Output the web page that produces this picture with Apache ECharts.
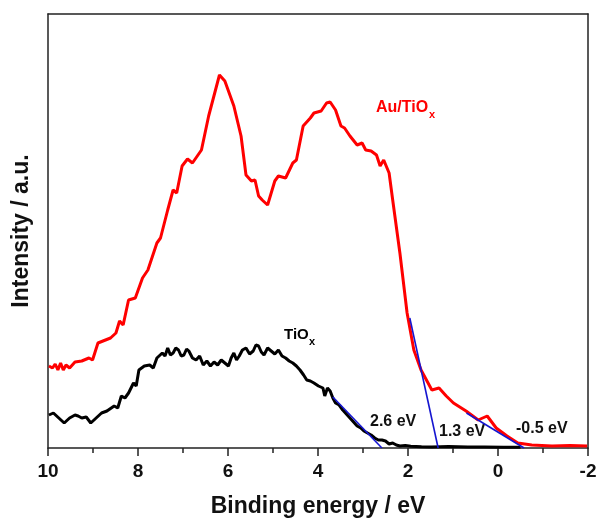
<!DOCTYPE html>
<html>
<head>
<meta charset="utf-8">
<script src="https://cdn.jsdelivr.net/npm/echarts@6/dist/echarts.min.js"></script>
<style>html,body{margin:0;padding:0;background:#fff}#c{width:601px;height:525px}</style>
</head>
<body>
<div id="c"></div>
<script>
// Binding energy (eV) and intensity (a.u.)
var auTiOx = [[9.98,82],[9.90,80],[9.84,84],[9.78,78],[9.72,85],[9.66,78],[9.60,83],[9.52,80],[9.40,86],[9.25,87],[9.09,90],[9.01,88],[8.89,105],[8.61,110],[8.49,115],[8.41,127],[8.33,123],[8.21,148],[8.06,150],[7.90,170],[7.78,178],[7.58,205],[7.50,210],[7.34,238],[7.22,258],[7.14,255],[7.02,282],[6.90,289],[6.79,285],[6.59,298],[6.43,332],[6.19,373],[6.07,367],[5.87,342],[5.71,312],[5.60,273],[5.48,267],[5.40,268],[5.32,252],[5.24,248],[5.12,243],[4.96,267],[4.88,272],[4.72,270],[4.56,285],[4.48,288],[4.33,322],[4.17,330],[4.09,335],[3.93,337],[3.81,345],[3.73,346],[3.61,338],[3.49,322],[3.41,320],[3.29,312],[3.13,303],[3.02,305],[2.94,298],[2.82,297],[2.70,293],[2.62,282],[2.54,288],[2.42,275],[2.34,248],[2.18,195],[2.02,135],[1.87,98],[1.71,78],[1.47,58],[1.31,60],[1.15,52],[0.99,45],[0.71,37],[0.44,28],[0.24,32],[0.04,20],[-0.20,12],[-0.44,5],[-0.75,3],[-1.2,2],[-1.6,2.5],[-1.98,2]];
var tiOx = [[9.98,33],[9.88,35],[9.76,30],[9.64,25],[9.52,30],[9.40,33],[9.33,32],[9.25,30],[9.15,31],[9.05,25],[8.93,30],[8.81,35],[8.69,37],[8.53,42],[8.45,40],[8.37,52],[8.29,50],[8.21,55],[8.10,65],[8.04,62],[7.98,78],[7.86,82],[7.74,83],[7.66,80],[7.58,90],[7.46,95],[7.40,92],[7.34,100],[7.28,93],[7.22,95],[7.16,100],[7.10,98],[7.04,92],[6.98,93],[6.92,99],[6.87,97],[6.79,90],[6.71,88],[6.63,92],[6.55,83],[6.47,87],[6.39,82],[6.31,86],[6.23,83],[6.15,88],[6.07,85],[5.99,82],[5.93,90],[5.87,95],[5.81,88],[5.75,92],[5.68,98],[5.60,100],[5.52,94],[5.44,97],[5.38,103],[5.32,102],[5.26,96],[5.20,93],[5.12,100],[5.04,97],[4.96,94],[4.88,98],[4.80,92],[4.72,90],[4.64,87],[4.56,85],[4.48,82],[4.40,78],[4.32,73],[4.25,68],[4.17,67],[4.09,65],[3.99,62],[3.89,60],[3.85,52],[3.79,60],[3.73,57],[3.67,50],[3.61,45],[3.53,43],[3.45,38],[3.37,34],[3.29,30],[3.21,26],[3.13,22],[3.05,20],[2.98,17],[2.90,15],[2.82,13],[2.74,10],[2.66,8],[2.58,8],[2.50,7],[2.42,4],[2.34,5],[2.26,3],[2.18,2],[2.06,2.5],[1.94,1.7],[1.70,1.2],[1.47,1],[1.10,1.5],[0.67,1],[0.30,1],[-0.12,0.7],[-0.5,0.8]];
var tangentTiOx = [[3.67,51],[2.58,0]];
var tangentSteep = [[1.96,130],[1.33,0]];
var tangentTail = [[0.70,35],[-0.58,0]];
var xTicks = [10,8,6,4,2,0,-2];

var chart = echarts.init(document.getElementById('c'), null, {renderer:'canvas'});
var F = 'Liberation Sans, Arial, sans-serif';
var lineBase = {type:'line', showSymbol:false, symbol:'none', smooth:false, animation:false};
function txt(x,y,s,size,color){return {type:'text',left:x,top:y,style:{text:s,fontSize:size,fontWeight:'bold',fontFamily:F,fill:color}};}
chart.setOption({
  animation:false,
  grid:{left:48,right:13,top:14,bottom:77,show:false},
  xAxis:[{
    type:'value', min:-2, max:10, interval:2, inverse:true,
    axisLine:{show:true,onZero:false,lineStyle:{color:'#222',width:1.5}},
    axisTick:{show:true,inside:false,length:8,lineStyle:{color:'#222',width:1.5}},
    minorTick:{show:true,splitNumber:2,length:5,lineStyle:{color:'#222',width:1.5}},
    splitLine:{show:false},
    axisLabel:{show:true,margin:14,fontSize:19,fontWeight:'bold',fontFamily:F,color:'#111',
      formatter:function(v){return xTicks.indexOf(v)>=0?String(v):'';}},
    name:'Binding energy / eV', nameLocation:'middle', nameGap:47,
    nameTextStyle:{fontSize:23,fontWeight:'bold',fontFamily:F,color:'#111'}
  },{
    type:'value', min:-2, max:10, inverse:true, position:'top',
    axisLine:{show:true,onZero:false,lineStyle:{color:'#222',width:1.5}},
    axisTick:{show:false}, axisLabel:{show:false}, splitLine:{show:false}
  }],
  yAxis:[{
    type:'value', min:0, max:434,
    axisLine:{show:true,onZero:false,lineStyle:{color:'#222',width:1.5}},
    axisTick:{show:false}, axisLabel:{show:false}, splitLine:{show:false},
    name:'Intensity / a.u.', nameLocation:'middle', nameGap:15,
    nameTextStyle:{fontSize:23,fontWeight:'bold',fontFamily:F,color:'#111'}
  },{
    type:'value', min:0, max:434, position:'right',
    axisLine:{show:true,onZero:false,lineStyle:{color:'#222',width:1.5}},
    axisTick:{show:false}, axisLabel:{show:false}, splitLine:{show:false}
  }],
  series:[
    Object.assign({},lineBase,{name:'TiOx',data:tiOx,lineStyle:{color:'#000',width:3},z:2}),
    Object.assign({},lineBase,{name:'Au/TiOx',data:auTiOx,lineStyle:{color:'#ff0000',width:3},z:3}),
    Object.assign({},lineBase,{data:tangentTiOx,lineStyle:{color:'#1515d0',width:1.6},z:4}),
    Object.assign({},lineBase,{data:tangentSteep,lineStyle:{color:'#1515d0',width:1.6},z:4}),
    Object.assign({},lineBase,{data:tangentTail,lineStyle:{color:'#1515d0',width:1.6},z:4})
  ],
  graphic:[
    txt(376,100,'Au/TiO',16,'#ff0000'),
    txt(429,109,'x',11,'#ff0000'),
    txt(284,327,'TiO',15,'#000'),
    txt(309,336,'x',11,'#000'),
    txt(370,414,'2.6 eV',16,'#111'),
    txt(439,424,'1.3 eV',16,'#111'),
    txt(516,421,'-0.5 eV',16,'#111')
  ]
});
</script>
</body>
</html>
